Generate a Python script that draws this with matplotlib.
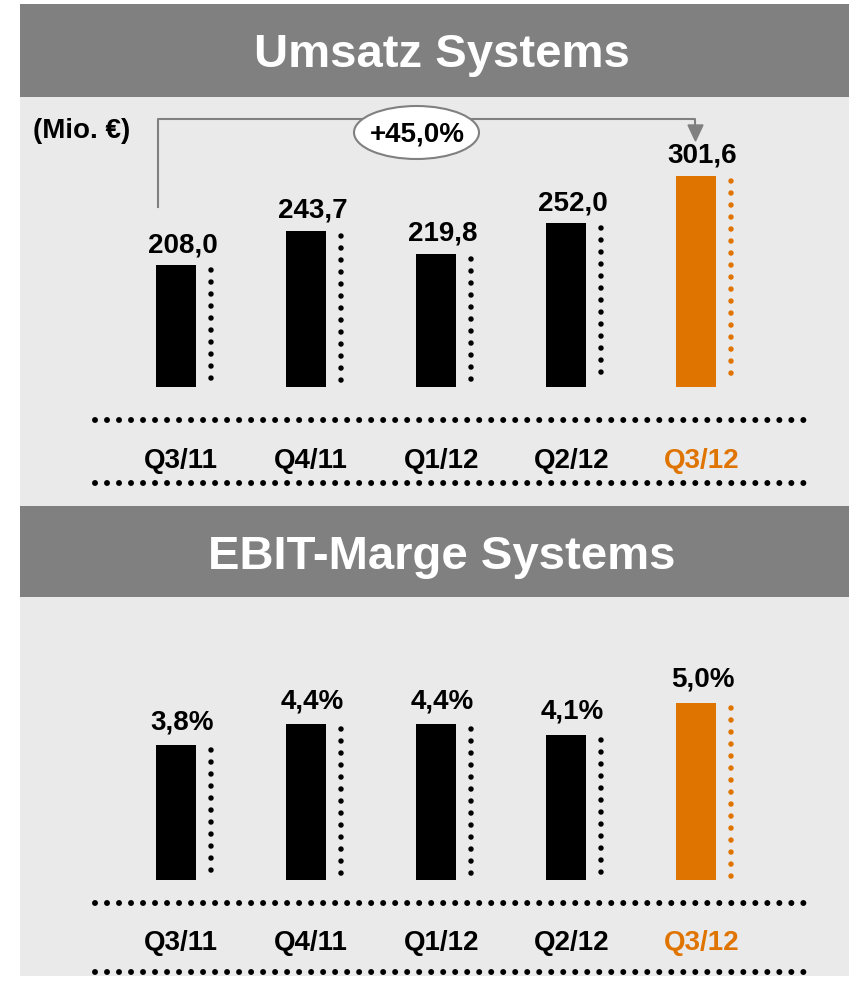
import matplotlib.pyplot as plt
from matplotlib.patches import Rectangle, Ellipse, Polygon

W, H = 849, 981

quarters = ["Q3/11", "Q4/11", "Q1/12", "Q2/12", "Q3/12"]
umsatz = [208.0, 243.7, 219.8, 252.0, 301.6]       # Mio. EUR
ebit_marge = [3.8, 4.4, 4.4, 4.1, 5.0]              # %

BLACK = "#000000"
ORANGE = "#E07400"
GRAY = "#808080"
BG = "#EAEAEA"
colors = [BLACK] * 4 + [ORANGE]


def de(v, suffix=""):
    # german decimal comma
    return f"{v:.1f}".replace(".", ",") + suffix


def dotted(ax, xs, ys, color, px=5.5, step=12):
    lw = px * 0.72
    ax.plot(xs, ys, color=color, lw=lw, ls=(0, (0.001, step * 0.72 / lw)),
            dash_capstyle="round", zorder=2)


plt.rcParams["font.family"] = ["Liberation Sans", "DejaVu Sans"]
plt.rcParams["font.weight"] = "bold"

fig = plt.figure(figsize=(W / 100, H / 100), dpi=100)

# frame drawn on a pixel canvas
bg = fig.add_axes([0, 0, 1, 1])
bg.set_xlim(0, W)
bg.set_ylim(H, 0)
bg.axis("off")
bg.add_patch(Rectangle((20, 4), W - 20, 972, color=BG, lw=0))
for y0, y1, title, base in [(4, 97, "Umsatz Systems", 67),
                            (506, 597, "EBIT-Marge Systems", 569)]:
    bg.add_patch(Rectangle((20, y0), W - 20, y1 - y0, color=GRAY, lw=0))
    bg.text(442, base, title, color="white", fontsize=34, ha="center", va="baseline")

for y in [420, 483, 903, 972]:
    dotted(bg, [95, 805], [y, y], BLACK, px=6)

bg.text(33, 138, "(Mio. €)", fontsize=20, ha="left", va="baseline")

# growth bracket Q3/11 -> Q3/12
bg.plot([158, 158, 695, 695], [207, 119, 119, 127], color=GRAY, lw=1.5, zorder=2)
bg.add_patch(Polygon([(688, 125), (703, 125), (695.5, 141)], color=GRAY, zorder=2))
bg.add_patch(Ellipse((416.5, 132.5), 125, 53, fc="white", ec=GRAY, lw=1.5, zorder=3))
growth = umsatz[-1] / umsatz[0] - 1
bg.text(417, 142, "+" + de(growth * 100, "%"), fontsize=20, ha="center",
        va="baseline", zorder=4)


def panel(bottom_px, top_px, ymin, px_per_unit, values, labels, val_gap, q_gap):
    ymax = ymin + (bottom_px - top_px) / px_per_unit
    ax = fig.add_axes([111 / W, 1 - bottom_px / H, 650 / W, (bottom_px - top_px) / H])
    ax.set_xlim(-0.5, 4.5)
    ax.set_ylim(ymin, ymax)
    ax.axis("off")
    ax.patch.set_alpha(0)
    ax.bar(range(len(values)), values, width=40 / 130, color=colors, lw=0, zorder=2)
    for i, v in enumerate(values):
        dotted(ax, [i + 0.27, i + 0.27], [v - 5 / px_per_unit, ymin + 3 / px_per_unit],
               colors[i])
        ax.annotate(labels[i], (i + 0.05, v), xytext=(0, val_gap * 0.72),
                    textcoords="offset points", ha="center", va="baseline", fontsize=20)
        ax.annotate(quarters[i], (i + 0.04, 0), xycoords=("data", "axes fraction"),
                    xytext=(0, -q_gap * 0.72), textcoords="offset points",
                    ha="center", va="baseline", fontsize=20, color=colors[i],
                    annotation_clip=False)
    return ax


panel(387, 150, 80, 0.953, umsatz, [de(v) for v in umsatz], 13, 81)
panel(880, 640, 0, 35.45, ebit_marge, [de(v, "%") for v in ebit_marge], 16, 70)

fig.savefig("out.png", dpi=100)
